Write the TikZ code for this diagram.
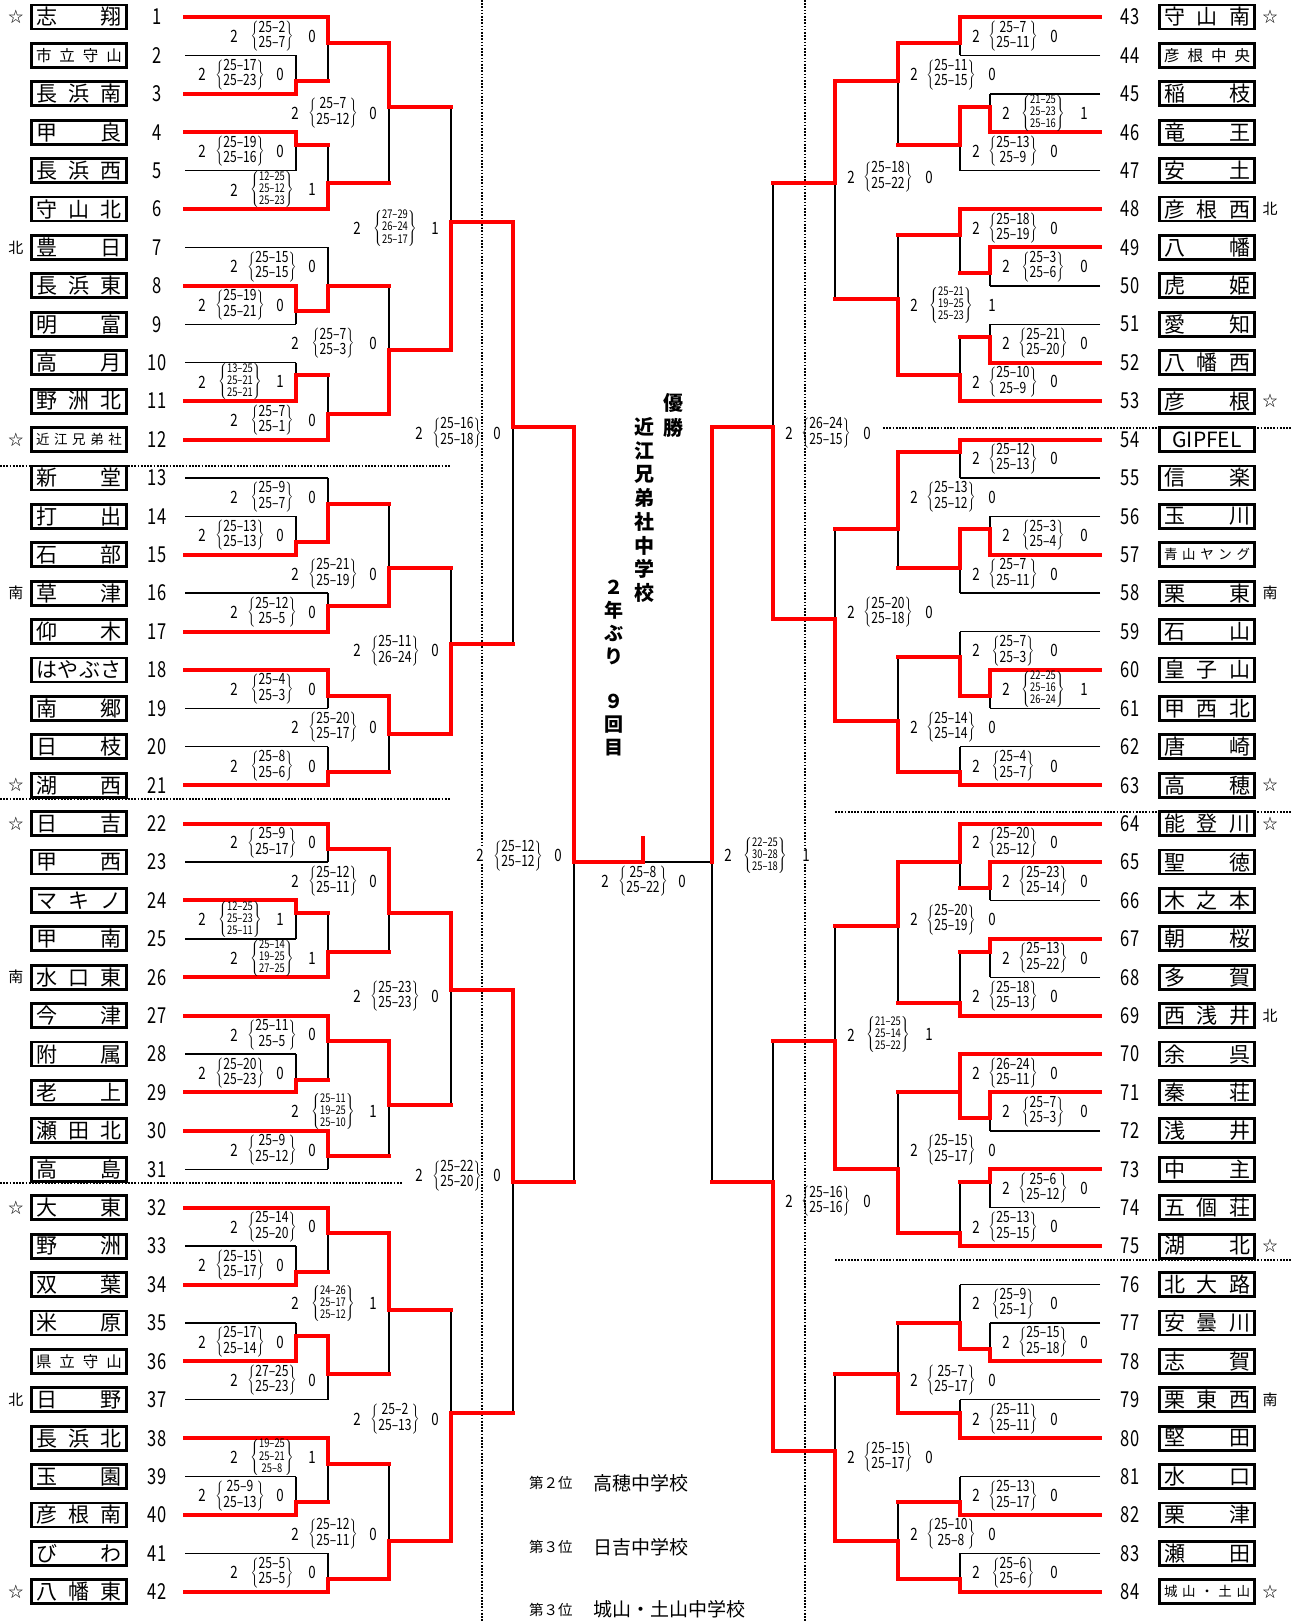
\documentclass[tikz,border=0pt]{standalone}
\usepackage{fontspec}
\setmainfont{Noto Sans CJK JP}
\newfontfamily\numfont[FakeStretch=0.75,Ligatures=TeX]{Noto Sans CJK JP}
\newfontfamily\scorefont[FakeStretch=0.78,Ligatures=TeX]{Noto Sans CJK JP}
\usetikzlibrary{positioning}

\delimitershortfall=1pt
\newcommand\smallname{\fontsize{15.5}{16}\selectfont}
\newcommand\tinyname{\fontsize{13.5}{14}\selectfont}
\newcommand\sctwo[2]{$\left\{\vcenter{\hbox{\scorefont\fontsize{15.5}{14}\selectfont
  \begin{tabular}{@{}c@{}}#1\\#2\end{tabular}}}\right\}$}
\newcommand\scthree[3]{$\left\{\vcenter{\hbox{\scorefont\fontsize{12}{11.5}\selectfont
  \begin{tabular}{@{}c@{}}#1\\#2\\#3\end{tabular}}}\right\}$}

% x column / next column / top / bottom / out / winner / label row / scores / lost sets
\newcommand\matchlist{
  296/328/3/6/5/6/4.5/{\sctwo{25--17}{25--23}}/0,
  296/328/9/12/10/9/10.5/{\sctwo{25--19}{25--16}}/0,
  328/389/0/5/2/0/1.5/{\sctwo{25--2}{25--7}}/0,
  328/389/10/15/13/15/13.5/{\scthree{12--25}{25--12}{25--23}}/1,
  389/451/2/13/7/2/7.5/{\sctwo{25--7}{25--12}}/0,
  296/328/21/24/23/21/22.5/{\sctwo{25--19}{25--21}}/0,
  328/389/18/23/21/23/19.5/{\sctwo{25--15}{25--15}}/0,
  296/328/27/30/28/30/28.5/{\scthree{13--25}{25--21}{25--21}}/1,
  328/389/28/33/31/33/31.5/{\sctwo{25--7}{25--1}}/0,
  389/451/21/31/26/31/25.5/{\sctwo{25--7}{25--3}}/0,
  451/513/7/26/16/26/16.5/{\scthree{27--29}{26--24}{25--17}}/1,
  296/328/39/42/41/42/40.5/{\sctwo{25--13}{25--13}}/0,
  328/389/36/41/38/41/37.5/{\sctwo{25--9}{25--7}}/0,
  328/389/45/48/46/48/46.5/{\sctwo{25--12}{25--5}}/0,
  389/451/38/46/43/46/43.5/{\sctwo{25--21}{25--19}}/0,
  328/389/51/54/53/51/52.5/{\sctwo{25--4}{25--3}}/0,
  328/389/57/60/59/60/58.5/{\sctwo{25--8}{25--6}}/0,
  389/451/53/59/56/53/55.5/{\sctwo{25--20}{25--17}}/0,
  451/513/43/56/49/56/49.5/{\sctwo{25--11}{26--24}}/0,
  513/574/16/49/32/16/32.5/{\sctwo{25--16}{25--18}}/0,
  328/389/63/66/65/63/64.5/{\sctwo{25--9}{25--17}}/0,
  296/328/69/72/70/69/70.5/{\scthree{12--25}{25--23}{25--11}}/1,
  328/389/70/75/73/75/73.5/{\scthree{25--14}{19--25}{27--25}}/1,
  389/451/65/73/70/65/67.5/{\sctwo{25--12}{25--11}}/0,
  296/328/81/84/83/84/82.5/{\sctwo{25--20}{25--23}}/0,
  328/389/78/83/80/78/79.5/{\sctwo{25--11}{25--5}}/0,
  328/389/87/90/89/87/88.5/{\sctwo{25--9}{25--12}}/0,
  389/451/80/89/85/80/85.5/{\scthree{25--11}{19--25}{25--10}}/1,
  451/513/70/85/76/70/76.5/{\sctwo{25--23}{25--23}}/0,
  296/328/96/99/98/99/97.5/{\sctwo{25--15}{25--17}}/0,
  328/389/93/98/95/93/94.5/{\sctwo{25--14}{25--20}}/0,
  296/328/102/105/103/105/103.5/{\sctwo{25--17}{25--14}}/0,
  328/389/103/108/106/103/106.5/{\sctwo{27--25}{25--23}}/0,
  389/451/95/106/101/95/100.5/{\scthree{24--26}{25--17}{25--12}}/1,
  296/328/114/117/116/117/115.5/{\sctwo{25--9}{25--13}}/0,
  328/389/111/116/113/111/112.5/{\scthree{19--25}{25--21}{25--8}}/1,
  328/389/120/123/122/123/121.5/{\sctwo{25--5}{25--5}}/0,
  389/451/113/122/119/122/118.5/{\sctwo{25--12}{25--11}}/0,
  451/513/101/119/109/119/109.5/{\sctwo{25--2}{25--13}}/0,
  513/574/76/109/91/76/90.5/{\sctwo{25--22}{25--20}}/0,
  574/643/32/91/66/32/65.5/{\sctwo{25--12}{25--12}}/0,
  960/898/0/3/2/0/1.5/{\sctwo{25--7}{25--11}}/0,
  990/960/6/9/7/9/7.5/{\scthree{21--25}{25--23}{25--16}}/1,
  960/898/7/12/10/7/10.5/{\sctwo{25--13}{25--9}}/0,
  898/835/2/10/5/2/4.5/{\sctwo{25--11}{25--15}}/0,
  990/960/18/21/20/18/19.5/{\sctwo{25--3}{25--6}}/0,
  960/898/15/20/17/15/16.5/{\sctwo{25--18}{25--19}}/0,
  990/960/24/27/25/27/25.5/{\sctwo{25--21}{25--20}}/0,
  960/898/25/30/28/30/28.5/{\sctwo{25--10}{25--9}}/0,
  898/835/17/28/22/28/22.5/{\scthree{25--21}{19--25}{25--23}}/1,
  835/773/5/22/13/5/12.5/{\sctwo{25--18}{25--22}}/0,
  960/898/33/36/34/33/34.5/{\sctwo{25--12}{25--13}}/0,
  990/960/39/42/40/42/40.5/{\sctwo{25--3}{25--4}}/0,
  960/898/40/45/43/40/43.5/{\sctwo{25--7}{25--11}}/0,
  898/835/34/43/40/34/37.5/{\sctwo{25--13}{25--12}}/0,
  990/960/51/54/53/51/52.5/{\scthree{22--25}{25--16}{26--24}}/1,
  960/898/48/53/50/53/49.5/{\sctwo{25--7}{25--3}}/0,
  960/898/57/60/59/60/58.5/{\sctwo{25--4}{25--7}}/0,
  898/835/50/59/55/59/55.5/{\sctwo{25--14}{25--14}}/0,
  835/773/40/55/47/55/46.5/{\sctwo{25--20}{25--18}}/0,
  773/712/13/47/32/47/32.5/{\sctwo{26--24}{25--15}}/0,
  990/960/66/69/68/66/67.5/{\sctwo{25--23}{25--14}}/0,
  960/898/63/68/66/63/64.5/{\sctwo{25--20}{25--12}}/0,
  990/960/72/75/73/72/73.5/{\sctwo{25--13}{25--22}}/0,
  960/898/73/78/77/78/76.5/{\sctwo{25--18}{25--13}}/0,
  898/835/66/77/71/66/70.5/{\sctwo{25--20}{25--19}}/0,
  990/960/84/87/86/84/85.5/{\sctwo{25--7}{25--3}}/0,
  960/898/81/86/84/86/82.5/{\sctwo{26--24}{25--11}}/0,
  990/960/90/93/91/90/91.5/{\sctwo{25--6}{25--12}}/0,
  960/898/91/96/95/96/94.5/{\sctwo{25--13}{25--15}}/0,
  898/835/84/95/90/95/88.5/{\sctwo{25--15}{25--17}}/0,
  835/773/71/90/80/90/79.5/{\scthree{21--25}{25--14}{25--22}}/1,
  990/960/102/105/104/105/103.5/{\sctwo{25--15}{25--18}}/0,
  960/898/99/104/102/104/100.5/{\sctwo{25--9}{25--1}}/0,
  960/898/108/111/109/111/109.5/{\sctwo{25--11}{25--11}}/0,
  898/835/102/109/106/109/106.5/{\sctwo{25--7}{25--17}}/0,
  960/898/114/117/116/117/115.5/{\sctwo{25--13}{25--17}}/0,
  960/898/120/123/122/123/121.5/{\sctwo{25--6}{25--6}}/0,
  898/835/116/122/119/122/118.5/{\sctwo{25--10}{25--8}}/0,
  835/773/106/119/112/119/112.5/{\sctwo{25--15}{25--17}}/0,
  773/712/80/112/91/112/92.5/{\sctwo{25--16}{25--16}}/0,
  712/712/32/91/66/32/65.5/{\scthree{22--25}{30--28}{25--18}}/1}

\begin{document}
\begin{tikzpicture}[x=1pt, y=-12.803pt,
  teambox/.style={draw, fill=white, line width=2.8pt, minimum width=95pt, minimum height=24pt,
    inner sep=0pt, font=\fontsize{21}{21}\selectfont},
  teamno/.style={font=\numfont\fontsize{22}{22}\selectfont},
  seedmark/.style={font=\fontsize{15}{15}\selectfont},
  plainline/.style={line width=1.4pt},
  winline/.style={red, line width=4pt, line cap=rect},
  sepline/.style={line width=1.7pt, dash pattern=on 1.7pt off 1.5pt},
  setcount/.style={font=\scorefont\fontsize{17}{17}\selectfont, fill=white, inner sep=1pt},
  score/.style={inner sep=0pt},
  vtext/.style={align=center, inner sep=0pt}
  ]
  \useasboundingbox (0,-1.3284) rectangle (1292,125.36);

  % dotted separators
  \draw[sepline] (482,-1.33) -- (482,125.36);
  \draw[sepline] (805,-1.33) -- (805,125.36);
  \draw[sepline] (0,35.05) -- (451,35.05);
  \draw[sepline] (0,61.1) -- (451,61.1);
  \draw[sepline] (0,91.05) -- (403,91.05);
  \draw[sepline] (883,32.1) -- (1292,32.1);
  \draw[sepline] (835,62.1) -- (1292,62.1);
  \draw[sepline] (835,97.1) -- (1292,97.1);

  % teams
  \foreach \n/\nm/\sd/\xe/\ls in {
    1/{志\hfill 翔}/☆/328/winline,
    2/{\smallname 市\hfill 立\hfill 守\hfill 山}/{}/296/plainline,
    3/{長\hfill 浜\hfill 南}/{}/296/winline,
    4/{甲\hfill 良}/{}/296/winline,
    5/{長\hfill 浜\hfill 西}/{}/296/plainline,
    6/{守\hfill 山\hfill 北}/{}/328/winline,
    7/{豊\hfill 日}/北/328/plainline,
    8/{長\hfill 浜\hfill 東}/{}/296/winline,
    9/{明\hfill 富}/{}/296/plainline,
    10/{高\hfill 月}/{}/296/plainline,
    11/{野\hfill 洲\hfill 北}/{}/296/winline,
    12/{\tinyname 近\hfill 江\hfill 兄\hfill 弟\hfill 社}/☆/328/winline,
    13/{新\hfill 堂}/{}/328/plainline,
    14/{打\hfill 出}/{}/296/plainline,
    15/{石\hfill 部}/{}/296/winline,
    16/{草\hfill 津}/南/328/plainline,
    17/{仰\hfill 木}/{}/328/winline,
    18/{は\hfill や\hfill ぶ\hfill さ}/{}/328/winline,
    19/{南\hfill 郷}/{}/328/plainline,
    20/{日\hfill 枝}/{}/328/plainline,
    21/{湖\hfill 西}/☆/328/winline,
    22/{日\hfill 吉}/☆/328/winline,
    23/{甲\hfill 西}/{}/328/plainline,
    24/{マ\hfill キ\hfill ノ}/{}/296/winline,
    25/{甲\hfill 南}/{}/296/plainline,
    26/{水\hfill 口\hfill 東}/南/328/winline,
    27/{今\hfill 津}/{}/328/winline,
    28/{附\hfill 属}/{}/296/plainline,
    29/{老\hfill 上}/{}/296/winline,
    30/{瀬\hfill 田\hfill 北}/{}/328/winline,
    31/{高\hfill 島}/{}/328/plainline,
    32/{大\hfill 東}/☆/328/winline,
    33/{野\hfill 洲}/{}/296/plainline,
    34/{双\hfill 葉}/{}/296/winline,
    35/{米\hfill 原}/{}/296/plainline,
    36/{\smallname 県\hfill 立\hfill 守\hfill 山}/{}/296/winline,
    37/{日\hfill 野}/北/328/plainline,
    38/{長\hfill 浜\hfill 北}/{}/328/winline,
    39/{玉\hfill 園}/{}/296/plainline,
    40/{彦\hfill 根\hfill 南}/{}/296/winline,
    41/{び\hfill わ}/{}/328/plainline,
    42/{八\hfill 幡\hfill 東}/☆/328/winline,
    43/{守\hfill 山\hfill 南}/☆/960/winline,
    44/{\smallname 彦\hfill 根\hfill 中\hfill 央}/{}/960/plainline,
    45/{稲\hfill 枝}/{}/990/plainline,
    46/{竜\hfill 王}/{}/990/winline,
    47/{安\hfill 土}/{}/960/plainline,
    48/{彦\hfill 根\hfill 西}/北/960/winline,
    49/{八\hfill 幡}/{}/990/winline,
    50/{虎\hfill 姫}/{}/990/plainline,
    51/{愛\hfill 知}/{}/990/plainline,
    52/{八\hfill 幡\hfill 西}/{}/990/winline,
    53/{彦\hfill 根}/☆/960/winline,
    54/{\hfil GIPFEL\hfil}/{}/960/winline,
    55/{信\hfill 楽}/{}/960/plainline,
    56/{玉\hfill 川}/{}/990/plainline,
    57/{\tinyname 青\hfill 山\hfill ヤ\hfill ン\hfill グ}/{}/990/winline,
    58/{栗\hfill 東}/南/960/plainline,
    59/{石\hfill 山}/{}/960/plainline,
    60/{皇\hfill 子\hfill 山}/{}/990/winline,
    61/{甲\hfill 西\hfill 北}/{}/990/plainline,
    62/{唐\hfill 崎}/{}/960/plainline,
    63/{高\hfill 穂}/☆/960/winline,
    64/{能\hfill 登\hfill 川}/☆/960/winline,
    65/{聖\hfill 徳}/{}/990/winline,
    66/{木\hfill 之\hfill 本}/{}/990/plainline,
    67/{朝\hfill 桜}/{}/990/winline,
    68/{多\hfill 賀}/{}/990/plainline,
    69/{西\hfill 浅\hfill 井}/北/960/winline,
    70/{余\hfill 呉}/{}/960/winline,
    71/{秦\hfill 荘}/{}/990/winline,
    72/{浅\hfill 井}/{}/990/plainline,
    73/{中\hfill 主}/{}/990/winline,
    74/{五\hfill 個\hfill 荘}/{}/990/plainline,
    75/{湖\hfill 北}/☆/960/winline,
    76/{北\hfill 大\hfill 路}/{}/960/plainline,
    77/{安\hfill 曇\hfill 川}/{}/990/plainline,
    78/{志\hfill 賀}/{}/990/winline,
    79/{栗\hfill 東\hfill 西}/南/960/plainline,
    80/{堅\hfill 田}/{}/960/winline,
    81/{水\hfill 口}/{}/960/plainline,
    82/{栗\hfill 津}/{}/960/winline,
    83/{瀬\hfill 田}/{}/960/plainline,
    84/{\tinyname 城\hfill 山\hfill ・\hfill 土\hfill 山}/☆/960/winline}{
    \pgfmathsetmacro\jj{\n<43 ? 3*(\n-1) : 3*(\n-43)}
    \pgfmathsetmacro\bx{\n<43 ? 79 : 1207}
    \pgfmathsetmacro\nx{\n<43 ? 157 : 1130}
    \pgfmathsetmacro\sx{\n<43 ? 16 : 1270}
    \pgfmathsetmacro\lx{\n<43 ? 185 : 1100}
    \draw[\ls] (\lx,\jj) -- (\xe,\jj);
    \node[teambox] (t\n) at (\bx,\jj) {\makebox[86pt][s]{\nm}};
    \node[teamno] (n\n) at (\nx,\jj) {\n};
    \node[seedmark] (s\n) at (\sx,\jj) {\sd};
  }

  % bracket lines and scores
  \foreach \mx/\nxt/\jt/\jb/\jo/\jw/\lj/\scr/\lc in \matchlist {
    \pgfmathsetmacro\ax{\mx<643 ? \mx-94 : \mx+16}
    \pgfmathsetmacro\sx{\mx<643 ? \mx-56 : \mx+53}
    \pgfmathsetmacro\cx{\mx<643 ? \mx-16 : \mx+94}
    \draw[plainline] (\mx,\jt) -- (\mx,\jb);
    \node[setcount] at (\ax,\lj) {2};
    \node[score] at (\sx,\lj) {\scr};
    \node[setcount] at (\cx,\lj) {\lc};
  }
  \draw[plainline] (574,66) -- (712,66);
  \foreach \mx/\nxt/\jt/\jb/\jo/\jw/\lj/\scr/\lc in \matchlist {
    \draw[winline] (\mx,\jw) -- (\mx,\jo) -- (\nxt,\jo);
  }
  \draw[winline] (960,81) -- (960,84);
  \draw[winline] (643,66) -- (643,64.1);

  % final
  \node[setcount] (f2) at (605,67.5) {2};
  \node[score] (fs) at (643,67.5) {\sctwo{25--8}{25--22}};
  \node[setcount] (f0) at (682,67.5) {0};

  % champion
  \node[vtext, font=\bfseries\fontsize{20}{25}\selectfont] (yusho) at (673,31.13) {優\\勝};
  \node[vtext, font=\bfseries\fontsize{20}{23.7}\selectfont] (champ) at (644,38.5)
    {近\\江\\兄\\弟\\社\\中\\学\\校};
  \node[vtext, font=\bfseries\fontsize{19}{22.9}\selectfont] (times) at (614,50.85)
    {２\\年\\ぶ\\り\\　\\９\\回\\目};

  % places
  \node[anchor=west, inner sep=0pt, font=\fontsize{14.5}{14.5}\selectfont] (p2) at (529,114.5) {第２位};
  \node[right=20pt of p2, inner sep=0pt, font=\fontsize{19}{19}\selectfont] (p2s) {高穂中学校};
  \node[anchor=west, inner sep=0pt, font=\fontsize{14.5}{14.5}\selectfont] (p3) at (529,119.5) {第３位};
  \node[right=20pt of p3, inner sep=0pt, font=\fontsize{19}{19}\selectfont] (p3s) {日吉中学校};
  \node[anchor=west, inner sep=0pt, font=\fontsize{14.5}{14.5}\selectfont] (p4) at (529,124.4) {第３位};
  \node[right=20pt of p4, inner sep=0pt, font=\fontsize{19}{19}\selectfont] (p4s) {城山・土山中学校};
\end{tikzpicture}
\end{document}
